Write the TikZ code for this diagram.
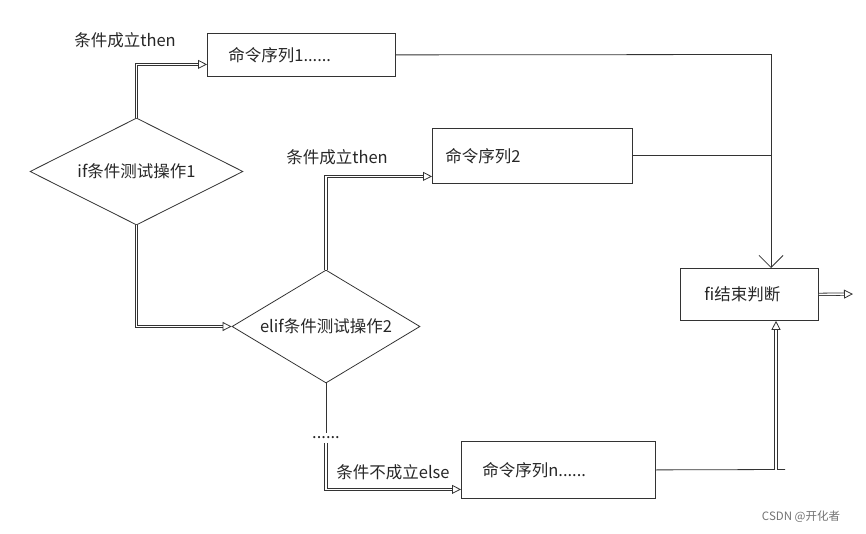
\documentclass[tikz,border=0pt]{standalone}
\usepackage{fontspec}
\setmainfont{Noto Sans CJK SC}
\usetikzlibrary{arrows.meta,shapes.geometric}

\begin{document}
\begin{tikzpicture}[x=1pt, y=-1pt, line width=0.8pt, draw=black!80,
	every node/.style={font=\fontsize{16.5}{19}\selectfont, text=black!85},
	box/.style={draw=black!80, rectangle, align=left, anchor=north west, inner ysep=0pt},
	cond/.style={draw=black!80, diamond, shape aspect=2, inner sep=0pt},
	flow/.style={double=white, double distance=1.6pt, -{Triangle[open, length=9pt, width=9pt]}},
	>={Straight Barb[length=12pt, width=24pt]}]
	\useasboundingbox (0,0) rectangle (866,534);
	% decisions
	\node[cond, minimum width=213pt, minimum height=107pt] (d1) at (136.5,171.5) {if条件测试操作1};
	\node[cond, minimum width=188pt, minimum height=113pt] (d2) at (326,326.5) {elif条件测试操作2};
	% command blocks
	\node[box, inner xsep=21pt, text width=146pt, minimum height=43pt] (b1) at (207,33) {命令序列1......};
	\node[box, inner xsep=13pt, text width=174pt, minimum height=55pt] (b2) at (432,128) {命令序列2};
	\node[box, inner xsep=21pt, text width=152pt, minimum height=57pt] (bn) at (461,441) {命令序列n......};
	\node[box, inner xsep=24pt, text width=90pt, minimum height=52pt] (fi) at (680,268) {fi结束判断};
	\node (dots) at (326,438) {......};
	% labels
	\node (lt1) at (125,40) {条件成立then};
	\node (lt2) at (337,157) {条件成立then};
	\node (lel) at (393,472) {条件不成立else};
	\node[font=\fontsize{11.5}{13}\selectfont, text=black!55] (mark) at (801,517) {CSDN @开化者};
	% junctions
	\coordinate (j1) at (771,54.5);
	\coordinate (j2) at (776,469.5);
	\coordinate (out) at (853,294);
	% connectors
	\draw[flow] (d1.north) |- ([yshift=-9.5pt]b1.west);
	\draw[flow] (d1.south) |- (d2.west);
	\draw[flow] (d2.north) |- ([yshift=-20.5pt]b2.west);
	\draw (d2.south) -- (dots);
	\draw[flow] (dots) |- ([yshift=-19.5pt]bn.west);
	\draw (b1.east) -- (j1);
	\draw (b2.east) -- (b2.east -| j1);
	\draw[->] (j1) -- (j1 |- fi.north);
	\draw (bn.east) -- ([xshift=9pt]j2);
	\draw[flow] (j2) -- (j2 |- fi.south);
	\draw[flow] (fi.east) -- (out);
\end{tikzpicture}
\end{document}
